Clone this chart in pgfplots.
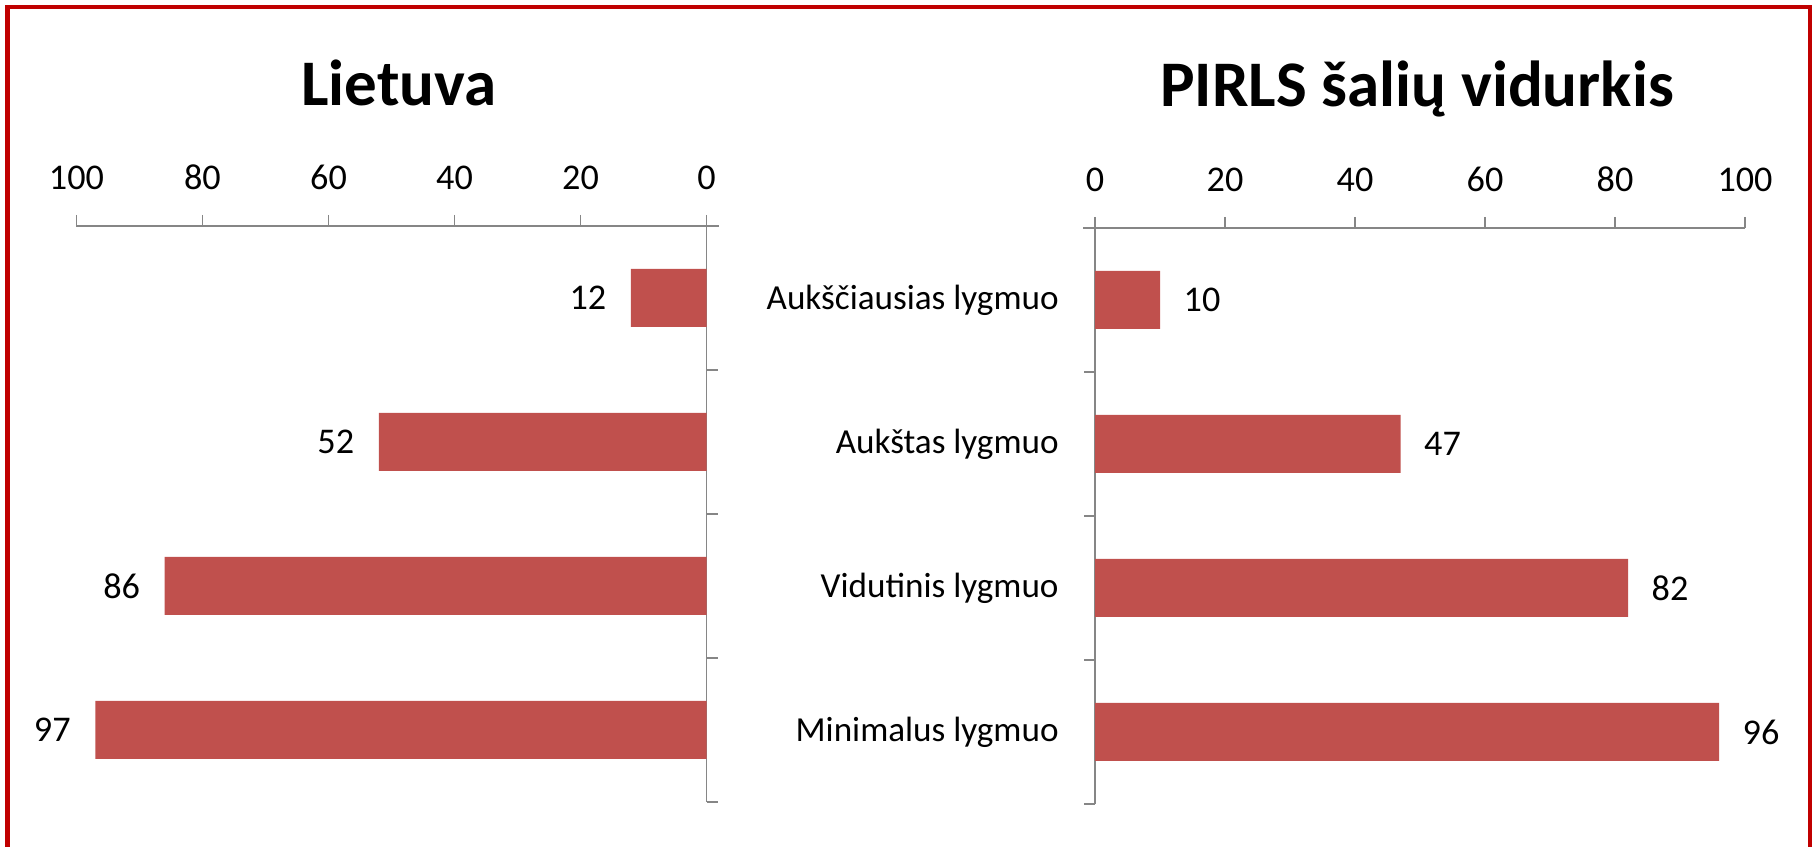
\documentclass[border=0pt]{standalone}
\usepackage{fontspec}
\setmainfont{Carlito}
\usepackage{pgfplots}
\pgfplotsset{compat=1.18}
\definecolor{barred}{HTML}{C0504D}
\definecolor{axgray}{HTML}{868686}
\definecolor{framered}{HTML}{C00000}
\pgfplotsset{
  common/.style={
    scale only axis, height=57.6mm,
    xmin=0, xmax=100, ymin=-0.5, ymax=3.5,
    xbar, bar width=5.8mm,
    axis x line*=top,
    xtick={0,20,...,100},
    ytick={-0.5,0.5,1.5,2.5,3.5}, yticklabels={},
    tick align=outside, major tick length=1.1mm,
    axis line style={axgray, line width=0.45pt},
    every tick/.style={axgray, line width=0.45pt},
    tick label style={font=\fontsize{10.3}{12}\selectfont, black},
    xticklabel style={yshift=1.3mm},
    /pgf/number format/assume math mode=true,
    nodes near coords,
    every node near coord/.append style={font=\fontsize{10.3}{12}\selectfont, black, inner sep=0pt},
    clip=false,
  }
}
\begin{document}
\begin{tikzpicture}
\useasboundingbox (0,0) rectangle (181.4mm,-84.7mm);
\draw[framered, line width=0.45mm] (0.75mm,-90mm) -- (0.75mm,-0.7mm) -- (181.0mm,-0.7mm) -- (181.0mm,-90mm);
\node[anchor=base, font=\fontsize{18.5}{22}\selectfont\bfseries] at (39.9mm,-10.6mm) {Lietuva};
\node[anchor=base, font=\fontsize{18.5}{22}\selectfont\bfseries] at (141.7mm,-10.7mm) {PIRLS šalių vidurkis};

\begin{axis}[common, at={(7.65mm,-22.6mm)}, anchor=north west, width=63.0mm,
  x dir=reverse, axis y line*=right,
  every node near coord/.append style={anchor=east, xshift=-2.4mm}]
\addplot[fill=barred, draw=none] coordinates {(12,3) (52,2) (86,1) (97,0)};
\draw[axgray, line width=0.45pt] (axis cs:0,3.5) -- (axis cs:-2.06,3.5);
\end{axis}

\begin{axis}[common, at={(109.5mm,-22.8mm)}, anchor=north west, width=65.0mm,
  axis y line*=left,
  extra y ticks={0,1,2,3},
  extra y tick labels={Minimalus lygmuo, Vidutinis lygmuo, Aukštas lygmuo, Aukščiausias lygmuo},
  extra y tick style={major tick length=0pt, yticklabel style={xshift=-2.4mm, font=\fontsize{10}{12}\selectfont}},
  every node near coord/.append style={anchor=west, xshift=2.3mm}]
\addplot[fill=barred, draw=none] coordinates {(10,3) (47,2) (82,1) (96,0)};
\draw[axgray, line width=0.45pt] (axis cs:0,3.5) -- (axis cs:-1.85,3.5);
\end{axis}
\end{tikzpicture}
\end{document}
